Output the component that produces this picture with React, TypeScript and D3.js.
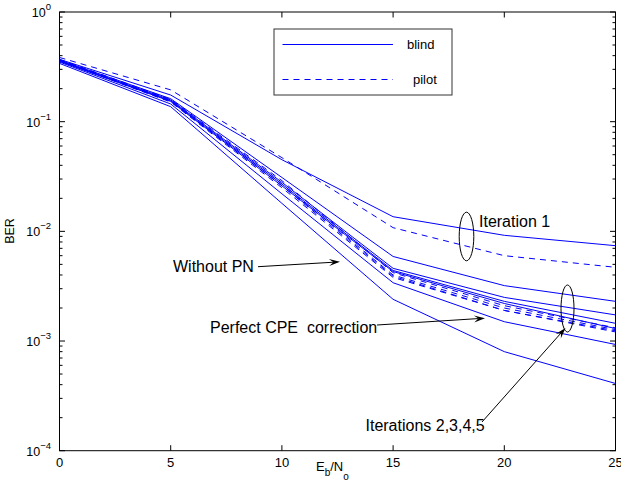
import React from "react";
import * as d3 from "d3";

const width = 621;
const height = 491;
const margin = { top: 12, right: 5.5, bottom: 40.3, left: 59.5 };
const font = "'Liberation Sans', Arial, Helvetica, sans-serif";

// Eb/No in dB
const ebno = [0, 5, 10, 15, 20, 25];

// blind CPE estimation (solid)
const blindIter1 = [0.37, 0.175, 0.045, 0.0136, 0.0092, 0.0074];
const blindIter2 = [0.365, 0.162, 0.031, 0.0059, 0.0032, 0.0023];
const blindIter3 = [0.36, 0.158, 0.028, 0.0046, 0.0025, 0.00173];
const blindIter4 = [0.358, 0.155, 0.027, 0.0044, 0.0023, 0.00145];
const blindIter5 = [0.355, 0.153, 0.026, 0.0043, 0.0022, 0.0013];

// pilot aided (dashed)
const pilotIter1 = [0.385, 0.195, 0.047, 0.0108, 0.006, 0.0047];
const pilotIter2 = [0.37, 0.16, 0.029, 0.0042, 0.0021, 0.00132];
const pilotIter3 = [0.365, 0.156, 0.027, 0.004, 0.002, 0.00127];
const pilotIter4 = [0.362, 0.153, 0.026, 0.0039, 0.0019, 0.00124];
const pilotIter5 = [0.36, 0.151, 0.025, 0.0038, 0.0019, 0.00121];

// references (solid)
const perfectCpe = [0.35, 0.145, 0.022, 0.0034, 0.0015, 0.00093];
const withoutPn = [0.34, 0.137, 0.018, 0.0024, 0.0008, 0.00041];

const xTicks = [0, 5, 10, 15, 20, 25];
const yDecades = [0, -1, -2, -3, -4];
const legendLabels = ["blind", "pilot"];

const solidSeries = [blindIter1, blindIter2, blindIter3, blindIter4, blindIter5, perfectCpe, withoutPn];
const dashedSeries = [pilotIter1, pilotIter2, pilotIter3, pilotIter4, pilotIter5];

const x = d3.scaleLinear().domain([0, 25]).range([margin.left, width - margin.right]);
const y = d3.scaleLog().domain([1e-4, 1]).range([height - margin.bottom, margin.top]);

const line = d3
  .line<number>()
  .x((d, i) => x(ebno[i]))
  .y((d) => y(d));

const arrowHead = (tipX: number, tipY: number, fromX: number, fromY: number) => {
  const a = Math.atan2(tipY - fromY, tipX - fromX);
  const len = 11;
  const half = 3.5;
  const bx = tipX - len * Math.cos(a);
  const by = tipY - len * Math.sin(a);
  const p1 = [bx + half * Math.sin(a), by - half * Math.cos(a)];
  const p2 = [bx - half * Math.sin(a), by + half * Math.cos(a)];
  const nx = tipX - 0.6 * len * Math.cos(a);
  const ny = tipY - 0.6 * len * Math.sin(a);
  return `M${tipX},${tipY}L${p1[0]},${p1[1]}L${nx},${ny}L${p2[0]},${p2[1]}Z`;
};

export default function App() {
  const x0 = x.range()[0];
  const x1 = x.range()[1];
  const y0 = y.range()[0];
  const y1 = y.range()[1];

  const minorTicks: number[] = [];
  for (let e = -4; e < 0; e++) {
    for (let m = 2; m <= 9; m++) minorTicks.push(m * Math.pow(10, e));
  }

  return (
    <svg
      width={width}
      height={height}
      style={{ position: "absolute", left: 0, top: 0, background: "#fff" }}
      fontFamily={font}
    >
      <rect x={0} y={0} width={width} height={height} fill="#fff" />

      {/* data */}
      <g fill="none" stroke="#0000ff" strokeWidth={1}>
        {solidSeries.map((s, i) => (
          <path key={`s${i}`} d={line(s) || ""} />
        ))}
        {dashedSeries.map((s, i) => (
          <path key={`d${i}`} d={line(s) || ""} strokeDasharray="6,5" />
        ))}
      </g>

      {/* axes box and ticks */}
      <g stroke="#000" strokeWidth={1} fill="none">
        <rect x={x0} y={y1} width={x1 - x0} height={y0 - y1} />
        {xTicks.map((t) => (
          <g key={`xt${t}`}>
            <line x1={x(t)} x2={x(t)} y1={y0} y2={y0 - 5.5} />
            <line x1={x(t)} x2={x(t)} y1={y1} y2={y1 + 5.5} />
          </g>
        ))}
        {yDecades.map((e) => (
          <g key={`yt${e}`}>
            <line x1={x0} x2={x0 + 5.5} y1={y(Math.pow(10, e))} y2={y(Math.pow(10, e))} />
            <line x1={x1} x2={x1 - 5.5} y1={y(Math.pow(10, e))} y2={y(Math.pow(10, e))} />
          </g>
        ))}
        {minorTicks.map((t, i) => (
          <g key={`ym${i}`}>
            <line x1={x0} x2={x0 + 3} y1={y(t)} y2={y(t)} />
            <line x1={x1} x2={x1 - 3} y1={y(t)} y2={y(t)} />
          </g>
        ))}
      </g>

      {/* tick labels */}
      <g fontSize={13} fill="#000">
        {xTicks.map((t) => (
          <text key={`xl${t}`} x={x(t)} y={y0 + 16.5} textAnchor="middle">
            {t}
          </text>
        ))}
        {yDecades.map((e) => (
          <text key={`yl${e}`} x={51} y={y(Math.pow(10, e)) + 5} textAnchor="end" fontSize={12.5}>
            10
            <tspan dy={-7} fontSize={9.5}>
              {e === 0 ? "0" : `\u2212${-e}`}
            </tspan>
          </text>
        ))}
      </g>

      {/* axis labels */}
      <text transform="translate(14,231) rotate(-90)" textAnchor="middle" fontSize={12.5}>
        BER
      </text>
      <text x={316} y={471} fontSize={13}>
        E
        <tspan dy={5} fontSize={10}>b</tspan>
        <tspan dy={-5}>/N</tspan>
        <tspan dy={9} fontSize={10}>o</tspan>
      </text>

      {/* legend */}
      <g>
        <rect x={274} y={29} width={178} height={66} fill="#fff" stroke="#333" strokeWidth={1} />
        <line x1={282.5} x2={393} y1={44.5} y2={44.5} stroke="#0000ff" strokeWidth={1} />
        <line x1={282.5} x2={393} y1={79.5} y2={79.5} stroke="#0000ff" strokeWidth={1} strokeDasharray="6,5" />
        <text x={407} y={49} fontSize={13}>{legendLabels[0]}</text>
        <text x={413} y={84} fontSize={13}>{legendLabels[1]}</text>
      </g>

      {/* annotations */}
      <g fill="none" stroke="#000" strokeWidth={1}>
        <ellipse cx={466.5} cy={236.5} rx={7.3} ry={24.3} />
        <ellipse cx={567.5} cy={308.5} rx={6.5} ry={23.5} />
        <line x1={258} y1={266.7} x2={334} y2={262.2} />
        <line x1={377} y1={325} x2={478} y2={318.6} />
        <line x1={482} y1={422} x2={561} y2={333} />
      </g>
      <g fill="#000" stroke="none">
        <path d={arrowHead(340, 261.8, 258, 266.7)} />
        <path d={arrowHead(485, 318.2, 377, 325)} />
        <path d={arrowHead(565.5, 328, 482, 422)} />
      </g>
      <g fontSize={16} fill="#000">
        <text x={479} y={227}>Iteration 1</text>
        <text x={173} y={271.5}>Without PN</text>
        <text x={210} y={332.5} style={{ whiteSpace: "pre" }}>
          {"Perfect CPE  correction"}
        </text>
        <text x={365.5} y={431}>Iterations 2,3,4,5</text>
      </g>
    </svg>
  );
}
